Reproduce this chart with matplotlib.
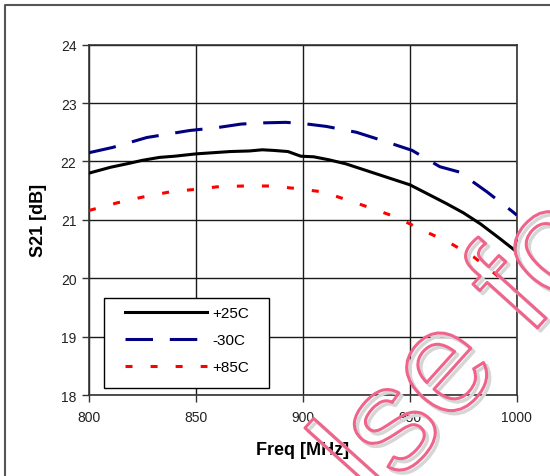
import matplotlib
matplotlib.use("Agg")
import matplotlib.pyplot as plt
import matplotlib.patheffects as pe
from matplotlib.lines import Line2D
from matplotlib.patches import Rectangle

plt.rcParams['font.family'] = ['Liberation Sans', 'DejaVu Sans']

# S21 vs frequency
freq_25 = [800, 805, 810, 819, 825, 833, 840, 850, 858, 866, 875, 881, 886, 893,
           899, 905, 912, 920, 930, 940, 950, 958, 967, 975, 983, 992, 1000]
s21_25 = [21.80, 21.85, 21.90, 21.97, 22.02, 22.07, 22.09, 22.13, 22.15, 22.17,
          22.18, 22.20, 22.19, 22.17, 22.09, 22.08, 22.03, 21.96, 21.84, 21.72,
          21.60, 21.45, 21.28, 21.12, 20.93, 20.68, 20.45]

freq_m30 = [800, 811, 827, 847, 860, 871, 880, 892, 900, 911, 925, 937, 951,
            964, 973, 986, 998, 1000]
s21_m30 = [22.15, 22.24, 22.41, 22.53, 22.58, 22.64, 22.66, 22.67, 22.65, 22.60,
           22.50, 22.36, 22.19, 21.91, 21.82, 21.48, 21.14, 21.08]

freq_85 = [800, 813, 825, 838, 849, 861, 873, 885, 896, 909, 920, 932, 944,
           956, 968, 980, 990, 1000]
s21_85 = [21.16, 21.29, 21.39, 21.48, 21.52, 21.57, 21.58, 21.58, 21.54, 21.48,
          21.35, 21.20, 21.04, 20.82, 20.62, 20.36, 20.07, 19.76]

xticks = [800, 850, 900, 950, 1000]
yticks = [18, 19, 20, 21, 22, 23, 24]

fig = plt.figure(figsize=(5.5, 4.77), dpi=100)
ax = fig.add_axes([0.1618, 0.1698, 0.778, 0.7344])

ax.plot(freq_25, s21_25, color='black', lw=2.2, label='+25C', zorder=4)
ax.plot(freq_m30, s21_m30, color='#000080', lw=2.2, dashes=(9, 5.5), label='-30C', zorder=3)
ax.plot(freq_85, s21_85, color='#ff0000', lw=2.2, dashes=(2.3, 5.9), label='+85C', zorder=3)

ax.set_xlim(800, 1000)
ax.set_ylim(18, 24)
ax.set_xticks(xticks)
ax.set_yticks(yticks)
ax.grid(True, color='#1a1a1a', lw=1.0)
ax.set_axisbelow(True)
for s in ax.spines.values():
    s.set_color('#333333')
    s.set_linewidth(1.2)
ax.tick_params(direction='out', length=5, width=1, color='#333333',
               labelsize=10, labelcolor='#222222')
ax.tick_params(axis='x', pad=6)
ax.tick_params(axis='y', pad=4)

ax.set_xlabel('Freq [MHz]', fontsize=13, fontweight='bold', labelpad=12)
ax.set_ylabel('S21 [dB]', fontsize=13, fontweight='bold', labelpad=10)

# legend box drawn separately so the padding matches the original
ax.add_patch(Rectangle((0.035, 0.020), 0.3855, 0.257, transform=ax.transAxes,
                       facecolor='white', edgecolor='black', lw=1.0, zorder=5))
leg = ax.legend(loc='upper left', bbox_to_anchor=(0.0841, 0.254), fontsize=11,
                handlelength=5.4, handletextpad=0.3, labelspacing=0.86,
                borderpad=0, borderaxespad=0, frameon=False)
leg.set_zorder(6)

# outer chart frame (clipped at right/bottom in the source)
fig.add_artist(Line2D([4.5 / 550, 4.5 / 550, 1], [0, 1 - 5.5 / 477, 1 - 5.5 / 477],
                      transform=fig.transFigure, color='#555555', lw=1.5))

# watermark: hollow letters with a grey drop shadow
wm = fig.text(377 / 550, 1 - 507 / 477, 'lse for', fontsize=105,
              color='none', rotation=48, rotation_mode='anchor', ha='left',
              va='baseline', zorder=10)
wm.set_path_effects([
    pe.Stroke(linewidth=2.5, foreground='#d6d6d6', offset=(2.2, -2.2)),
    pe.Stroke(linewidth=2.2, foreground='#f0648c'),
])

fig.savefig('out.png', dpi=100)
